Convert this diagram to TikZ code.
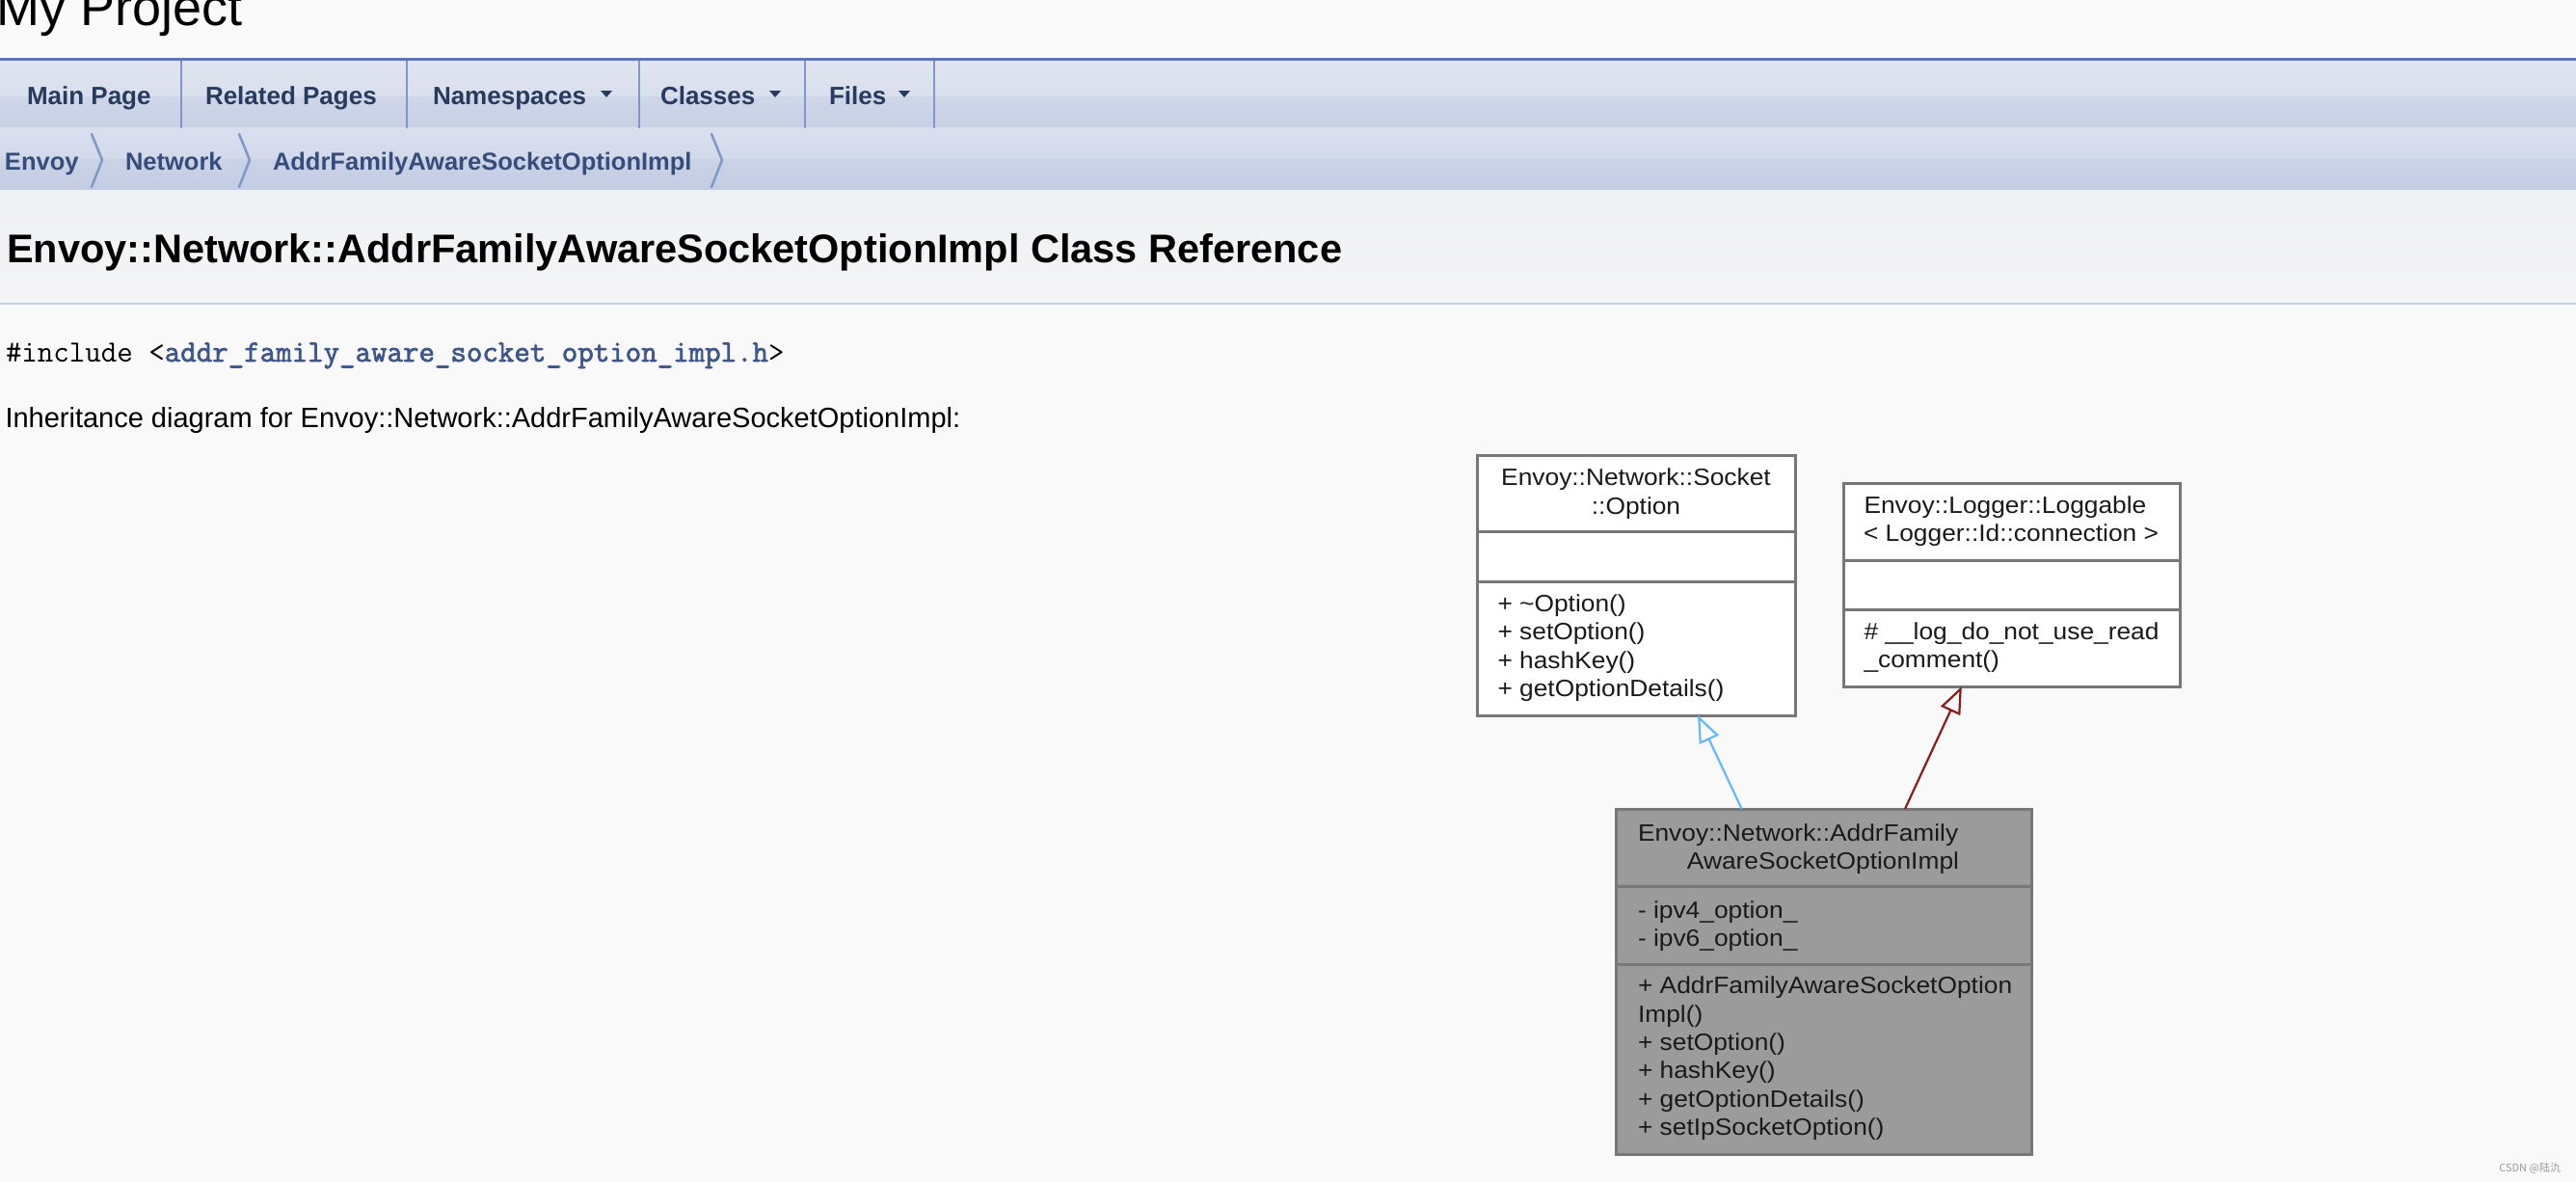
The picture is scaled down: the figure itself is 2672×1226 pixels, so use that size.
\documentclass[tikz,border=0pt]{standalone}
\usepackage{fontspec}
\setmainfont{Liberation Sans}
\newfontfamily\dotfont[FakeStretch=1.075]{Liberation Sans}
\newfontfamily\cjkfont{Noto Sans CJK SC}
\newfontfamily\codebold[FakeBold=2.2]{Latin Modern Mono}
\usetikzlibrary{arrows.meta,calc}
\definecolor{pagebg}{HTML}{F9F9F9}
\definecolor{topbg}{HTML}{FAFAFA}
\definecolor{tabA}{HTML}{E0E5F0}
\definecolor{tabB}{HTML}{D9DFED}
\definecolor{tabC}{HTML}{CFD6E8}
\definecolor{tabD}{HTML}{C7D0E5}
\definecolor{crA}{HTML}{D9DFED}
\definecolor{crB}{HTML}{D2D9EA}
\definecolor{crC}{HTML}{CAD2E6}
\definecolor{crD}{HTML}{C3CCE3}
\definecolor{navline}{HTML}{5A78B8}
\definecolor{tabsep}{HTML}{8197C9}
\definecolor{tabtext}{HTML}{283A5D}
\definecolor{crumbtext}{HTML}{364D7C}
\definecolor{hdrA}{HTML}{EFF0F3}
\definecolor{hdrB}{HTML}{F5F5F7}
\definecolor{hdrline}{HTML}{C4CFE5}
\definecolor{linkblue}{HTML}{3D578C}
\definecolor{boxline}{HTML}{777777}
\definecolor{mainfill}{HTML}{9B9B9B}
\definecolor{pubblue}{HTML}{63B8FF}
\definecolor{privred}{HTML}{8B1A1A}
\definecolor{wmgray}{HTML}{9A9A9A}
\definecolor{umlink}{HTML}{1A1A1A}
\begin{document}
\begin{tikzpicture}[x=1pt,y=-1pt,
  txt/.style={inner sep=0pt,outer sep=0pt,anchor=base west},
  tablabel/.style={txt,text=tabtext,font=\fontsize{26}{31}\selectfont\bfseries},
  crumb/.style={txt,text=crumbtext,font=\fontsize{25.5}{30}\selectfont\bfseries},
  umltxt/.style={txt,text=umlink,font=\dotfont\fontsize{24.5}{29}\selectfont},
  classbox/.style={rectangle,draw=boxline,line width=3pt,fill=white,inner sep=0pt,outer sep=0pt,anchor=north west},
  mainbox/.style={classbox,fill=mainfill},
  compline/.style={draw=boxline,line width=3pt},
  pubedge/.style={draw=pubblue,line width=2.2pt,-{Triangle[open,length=28pt,width=22pt]}},
  privedge/.style={draw=privred,line width=2.2pt,-{Triangle[open,length=28pt,width=22pt]}},
  tabdiv/.style={draw=tabsep,line width=2pt},
  chevron/.style={draw=tabsep,line width=2.5pt,line join=round,line cap=round},
  droparrow/.style={fill=tabtext,draw=none}
]
\useasboundingbox (0,0) rectangle (2672,1226);
% backgrounds
\fill[pagebg] (0,0) rectangle (2672,1226);
\fill[topbg] (0,0) rectangle (2672,62);
\shade[top color=tabA,bottom color=tabB] (0,62) rectangle (2672,100);
\shade[top color=tabC,bottom color=tabD] (0,100) rectangle (2672,132);
\fill[tabB] (0,132) rectangle (2672,135);
\shade[top color=crA,bottom color=crB] (0,135) rectangle (2672,165);
\shade[top color=crC,bottom color=crD] (0,165) rectangle (2672,196);
\shade[top color=hdrA,bottom color=hdrB] (0,197) rectangle (2672,315);
\draw[hdrline,line width=1.5pt] (0,196.5) -- (2672,196.5);
\draw[hdrline,line width=2.5pt] (0,315) -- (2672,315);
\draw[navline,line width=2.5pt] (0,61.5) -- (2672,61.5);
% tab dividers
\foreach \xx in {188,422,663,835,969} \draw[tabdiv] (\xx,63) -- (\xx,133);
% tab labels
\node[tablabel] (tabmain) at (28,108) {Main Page};
\node[tablabel] (tabrel) at (213,108) {Related Pages};
\node[tablabel] (tabns) at (449,108) {Namespaces};
\node[tablabel] (tabcls) at (685,108) {Classes};
\node[tablabel] (tabfiles) at (860,108) {Files};
\fill[droparrow] (623,94) -- (635,94) -- (629,101) -- cycle;
\fill[droparrow] (798,94) -- (810,94) -- (804,101) -- cycle;
\fill[droparrow] (932,94) -- (944,94) -- (938,101) -- cycle;
% breadcrumb
\node[crumb] (bc1) at (5,176) {Envoy};
\node[crumb] (bc2) at (130,176) {Network};
\node[crumb] (bc3) at (283,176) {AddrFamilyAwareSocketOptionImpl};
\foreach \xx in {95,248,738} \draw[chevron] (\xx,139) -- (\xx+11,166) -- (\xx,194);
% titles and text
\node[txt,font=\fontsize{54}{64}\selectfont,text=black] (proj) at (-3,27) {My Project};
\node[txt,font=\fontsize{41.5}{49}\selectfont\bfseries,text=black] (head) at (7,272) {Envoy::Network::AddrFamilyAwareSocketOptionImpl Class Reference};
\node[txt,font=\ttfamily\fontsize{32}{38}\selectfont,text=black] (incl) at (6,375) {\#include <{\codebold\fontsize{32}{38}\selectfont\color{linkblue}addr\_family\_aware\_socket\_option\_impl.h}>};
\node[txt,font=\fontsize{29}{35}\selectfont,text=black] (inh) at (5.5,443) {Inheritance diagram for Envoy::Network::AddrFamilyAwareSocketOptionImpl:};
% class boxes
\node[classbox,minimum width=330pt,minimum height=270pt] (opt) at (1532,472) {};
\draw[compline] ($(opt.north west)+(0,79)$) -- ($(opt.north east)+(0,79)$);
\draw[compline] ($(opt.north west)+(0,131)$) -- ($(opt.north east)+(0,131)$);
\node[classbox,minimum width=349pt,minimum height=211pt] (log) at (1912,501) {};
\draw[compline] ($(log.north west)+(0,80)$) -- ($(log.north east)+(0,80)$);
\draw[compline] ($(log.north west)+(0,131)$) -- ($(log.north east)+(0,131)$);
\node[mainbox,minimum width=431pt,minimum height=358pt] (main) at (1676,839) {};
\draw[compline] ($(main.north west)+(0,80)$) -- ($(main.north east)+(0,80)$);
\draw[compline] ($(main.north west)+(0,161)$) -- ($(main.north east)+(0,161)$);
% box 1 texts
\node[umltxt,anchor=base] (o1) at (1697,503) {Envoy::Network::Socket};
\node[umltxt,anchor=base] (o2) at (1697,533) {::Option};
\node[umltxt] (o3) at (1553.5,634) {+ \textasciitilde Option()};
\node[umltxt] (o4) at (1553.5,663.5) {+ setOption()};
\node[umltxt] (o5) at (1553.5,693) {+ hashKey()};
\node[umltxt] (o6) at (1553.5,722.5) {+ getOptionDetails()};
% box 2 texts
\node[umltxt] (l1) at (1933.5,532) {Envoy::Logger::Loggable};
\node[umltxt] (l2) at (1933,561) {< Logger::Id::connection >};
\node[umltxt] (l3) at (1933.5,663) {\# \_\_log\_do\_not\_use\_read};
\node[umltxt] (l4) at (1933.5,692.5) {\_comment()};
% main box texts
\node[umltxt] (m1) at (1699,872) {Envoy::Network::AddrFamily};
\node[umltxt,anchor=base east] (m2) at (2032,901) {AwareSocketOptionImpl};
\node[umltxt] (m3) at (1699,952) {- ipv4\_option\_};
\node[umltxt] (m4) at (1699,981.5) {- ipv6\_option\_};
\node[umltxt] (m5) at (1699,1030.7) {+ AddrFamilyAwareSocketOption};
\node[umltxt] (m6) at (1699,1060) {Impl()};
\node[umltxt] (m7) at (1699,1089.3) {+ setOption()};
\node[umltxt] (m8) at (1699,1118.6) {+ hashKey()};
\node[umltxt] (m9) at (1699,1148) {+ getOptionDetails()};
\node[umltxt] (m10) at (1699,1177.3) {+ setIpSocketOption()};
% inheritance edges
\draw[pubedge] ($(main.north west)!0.303!(main.north east)$) -- ($(opt.south west)!0.694!(opt.south east)$);
\draw[privedge] ($(main.north west)!0.696!(main.north east)$) -- ($(log.south west)!0.352!(log.south east)$);
% watermark
\node[txt,anchor=base east,text=wmgray,font=\cjkfont\fontsize{11}{13}\selectfont] (wm) at (2656,1215.5) {CSDN @陆氿};
\end{tikzpicture}
\end{document}
